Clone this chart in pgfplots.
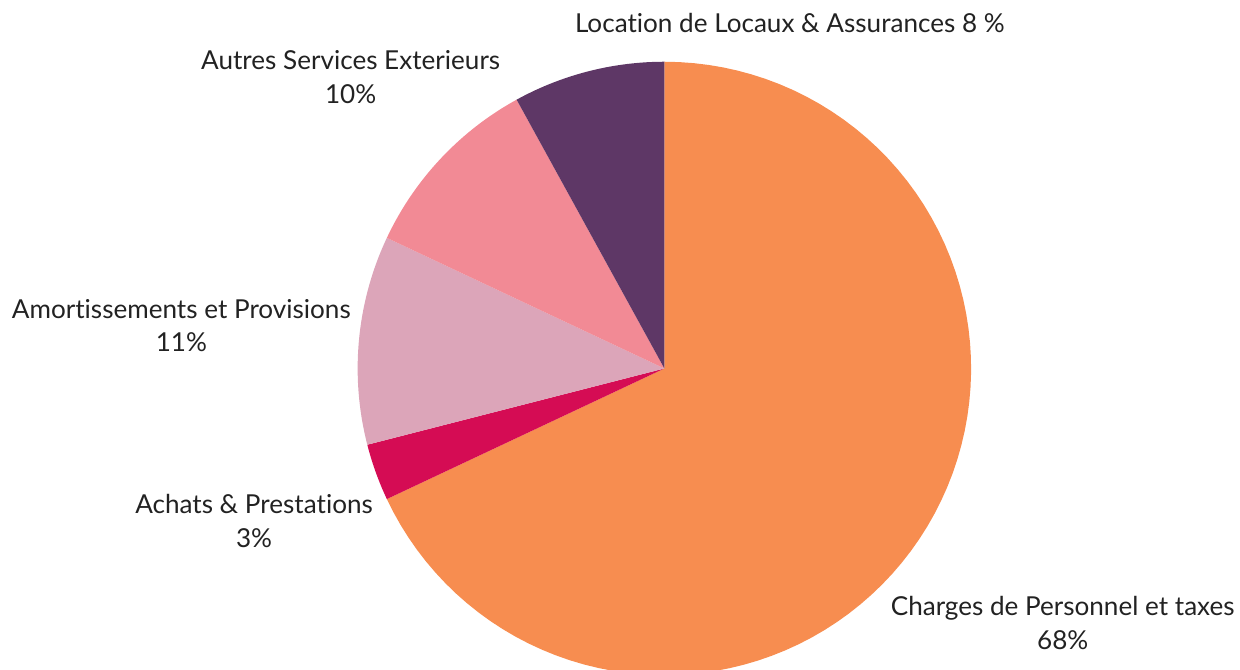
\documentclass[border=0pt]{standalone}
\usepackage{pgfplots}
\pgfplotsset{compat=1.18}
\usepackage{fontspec}
\setmainfont{Lato}[Ligatures=NoCommon]

\definecolor{cPers}{HTML}{F78D50}
\definecolor{cAchat}{HTML}{D50C54}
\definecolor{cAmort}{HTML}{DCA5B9}
\definecolor{cAutre}{HTML}{F28A95}
\definecolor{cLoc}{HTML}{5E3766}
\definecolor{txt}{HTML}{222222}

\begin{document}
% shares in percent, clockwise from the top
\pgfmathsetmacro\aA{90}
\pgfmathsetmacro\aB{\aA-3.6*68}% Charges de Personnel et taxes
\pgfmathsetmacro\aC{\aB-3.6*3}%  Achats & Prestations
\pgfmathsetmacro\aD{\aC-3.6*11}% Amortissements et Provisions
\pgfmathsetmacro\aE{\aD-3.6*10}% Autres Services Exterieurs
\pgfmathsetmacro\aF{\aE-3.6*8}%  Location de Locaux & Assurances
\begin{tikzpicture}[lbl/.style={font=\fontsize{13.1}{17}\selectfont, text=txt, align=center}]
\begin{axis}[
    x=0.5pt, y=0.5pt,
    xmin=0, xmax=1240, ymin=0, ymax=672,
    hide axis,
    clip=true,
    every axis plot/.append style={draw=none, samples=90},
]
\addplot[fill=cPers, domain=\aB:\aA] ({662+308*cos(x)},{302+308*sin(x)}) -- (axis cs:662,302) -- cycle;
\addplot[fill=cAchat, domain=\aC:\aB] ({662+308*cos(x)},{302+308*sin(x)}) -- (axis cs:662,302) -- cycle;
\addplot[fill=cAmort, domain=\aD:\aC] ({662+308*cos(x)},{302+308*sin(x)}) -- (axis cs:662,302) -- cycle;
\addplot[fill=cAutre, domain=\aE:\aD] ({662+308*cos(x)},{302+308*sin(x)}) -- (axis cs:662,302) -- cycle;
\addplot[fill=cLoc, domain=\aF:\aE] ({662+308*cos(x)},{302+308*sin(x)}) -- (axis cs:662,302) -- cycle;

\node[lbl] at (axis cs:788,649) {Location de Locaux \& Assurances 8 \%};
\node[lbl] at (axis cs:347,595) {Autres Services Exterieurs\\10\%};
\node[lbl] at (axis cs:177,345) {Amortissements et Provisions\\11\%};
\node[lbl] at (axis cs:250,149) {Achats \& Prestations\\3\%};
\node[lbl] at (axis cs:1062,46) {Charges de Personnel et taxes\\68\%};

\coordinate (bl) at (axis cs:0,0);
\coordinate (tr) at (axis cs:1240,672);
\end{axis}
\pgfresetboundingbox
\path[use as bounding box] (bl) rectangle (tr);
\end{tikzpicture}
\end{document}
